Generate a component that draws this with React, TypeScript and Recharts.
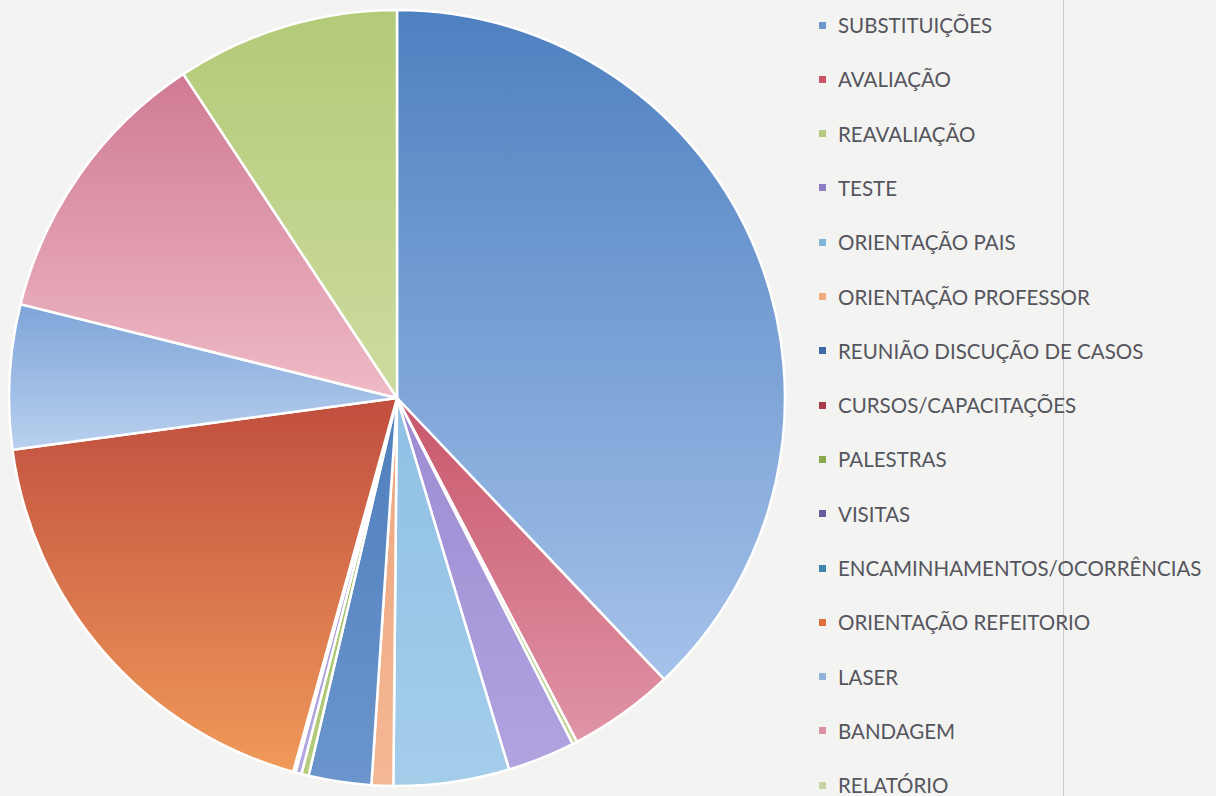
import { PieChart, Pie, Cell } from "recharts";

const categories = [
  "SUBSTITUIÇÕES",
  "AVALIAÇÃO",
  "REAVALIAÇÃO",
  "TESTE",
  "ORIENTAÇÃO PAIS",
  "ORIENTAÇÃO PROFESSOR",
  "REUNIÃO DISCUÇÃO DE CASOS",
  "CURSOS/CAPACITAÇÕES",
  "PALESTRAS",
  "VISITAS",
  "ENCAMINHAMENTOS/OCORRÊNCIAS",
  "ORIENTAÇÃO REFEITORIO",
  "LASER",
  "BANDAGEM",
  "RELATÓRIO",
];

// share of each activity (%)
const values = [37.8, 4.4, 0.2, 2.8, 4.8, 0.9, 2.6, 0, 0.3, 0.25, 0.1, 18.5, 6.0, 11.8, 9.25];

// gradient top / bottom colours per slice
const topColors = [
  "#4e80c0", "#c9566a", "#9bbb59", "#9d8bd2", "#8fc0e4", "#eea57c", "#4f7fbd", "#a03a3a",
  "#9bbb59", "#9a8ad0", "#3f8fb0", "#c04e3e", "#7ea5d8", "#d07a94", "#b3ca78",
];
const bottomColors = [
  "#a5c2ea", "#e095a7", "#c3d69b", "#b0a3e0", "#a4cdea", "#f3b894", "#6b95cc", "#c0504d",
  "#b5cd7e", "#b4a8e2", "#5aa8c6", "#f09a5a", "#b9d0ef", "#efbac6", "#cddc9f",
];
const legendColors = [
  "#6f97cc", "#c85466", "#b4c97e", "#8e7cc4", "#7fb6da", "#f0ac80", "#3c69a8", "#a83a4a",
  "#8aa84e", "#6a5a9e", "#3e86ab", "#dd6d3a", "#8fb1dc", "#d990a0", "#c5d4a4",
];

const data = categories.map((name, i) => ({ name, value: values[i] }));

export default function App() {
  return (
    <div
      style={{
        position: "absolute",
        left: 0,
        top: 0,
        width: 1216,
        height: 796,
        background: "#f3f3f1",
        overflow: "hidden",
        fontFamily: "Lato, 'Open Sans', sans-serif",
      }}
    >
      <div
        style={{
          position: "absolute",
          left: 1063,
          top: 0,
          width: 1,
          height: 796,
          background: "#c9c9c9",
        }}
      />
      <div style={{ position: "absolute", left: 0, top: 0 }}>
        <PieChart width={800} height={796} margin={{ top: 0, right: 0, bottom: 0, left: 0 }}>
          <defs>
            {data.map((_, i) => (
              <linearGradient key={`g-${i}`} id={`grad-${i}`} x1="0" y1="0" x2="0" y2="1">
                <stop offset="0%" stopColor={topColors[i]} />
                <stop offset="100%" stopColor={bottomColors[i]} />
              </linearGradient>
            ))}
          </defs>
          <Pie
            data={data}
            dataKey="value"
            nameKey="name"
            cx={397}
            cy={398}
            outerRadius={388}
            startAngle={90}
            endAngle={-270}
            stroke="#ffffff"
            strokeWidth={2.5}
            isAnimationActive={false}
          >
            {data.map((_, i) => (
              <Cell key={`cell-${i}`} fill={`url(#grad-${i})`} />
            ))}
          </Pie>
        </PieChart>
      </div>

      {/* legend */}
      {categories.map((name, i) => (
        <div
          key={name}
          style={{
            position: "absolute",
            left: 819,
            top: 25 + i * 54.3 - 12,
            height: 24,
            display: "flex",
            alignItems: "center",
            whiteSpace: "nowrap",
          }}
        >
          <span
            style={{
              display: "inline-block",
              width: 7,
              height: 7,
              background: legendColors[i],
              marginRight: 12,
            }}
          />
          <span style={{ fontSize: 20.5, color: "#55555e" }}>{name}</span>
        </div>
      ))}
    </div>
  );
}
